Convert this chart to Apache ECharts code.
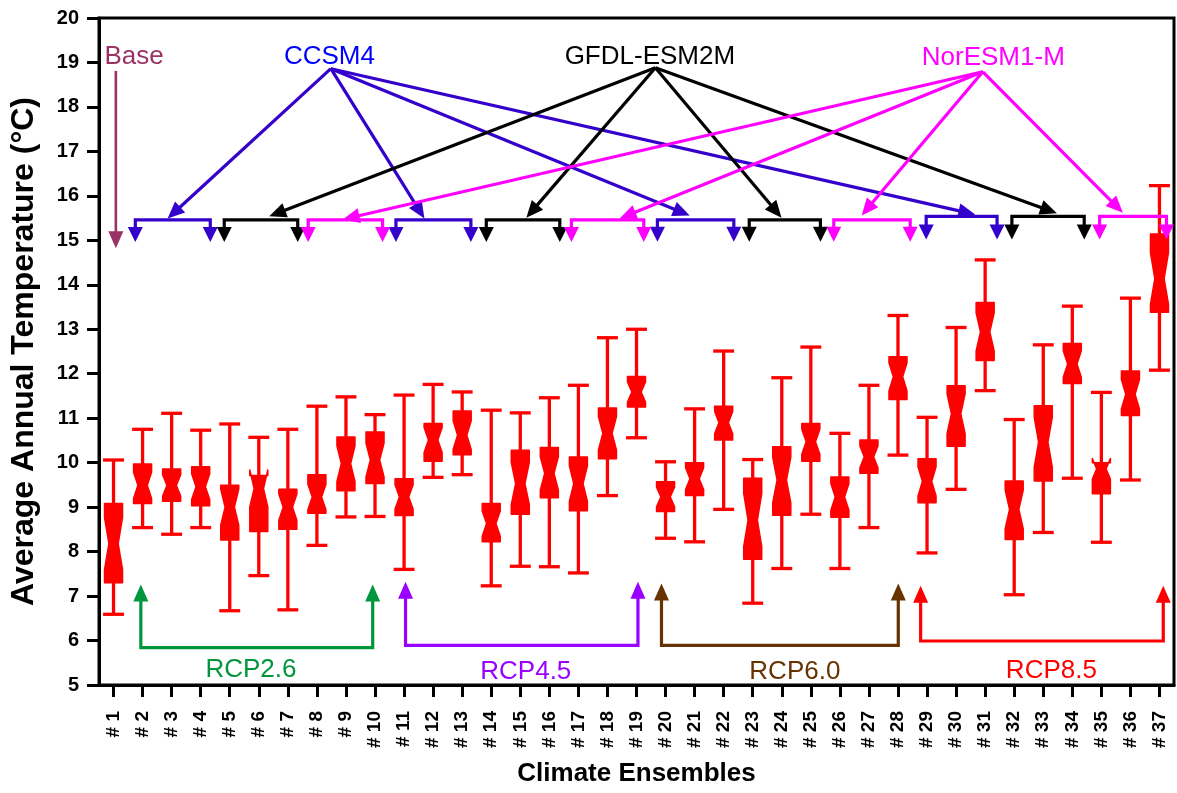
<!DOCTYPE html>
<html>
<head>
<meta charset="utf-8">
<script src="https://cdn.jsdelivr.net/npm/echarts@6/dist/echarts.min.js"></script>
<style>
  html, body { margin: 0; padding: 0; background: #fff; }
  #main { width: 1177px; height: 793px; }
</style>
</head>
<body>
<div id="main"></div>
<script>
// ensembles #1 .. #37
var ensembles = [1,2,3,4,5,6,7,8,9,10,11,12,13,14,15,16,17,18,19,20,21,22,23,24,25,26,27,28,29,30,31,32,33,34,35,36,37];

// box plot values (°C)
var whiskerLow  = [6.59,8.54,8.39,8.54,6.67,7.46,6.69,8.14,8.78,8.79, 7.60,9.67,9.73,7.23,7.67,7.66,7.52,9.26,10.56, 8.30,8.22,8.95,6.84,7.62,8.84,7.62,8.54,10.17, 7.97,9.40,11.62,7.03,8.43,9.65,8.21,9.61,12.08];
var boxQ1       = [7.30,9.08,9.13,9.03,8.26,8.45,8.50,8.86,9.37,9.53, 8.81,10.03,10.18,8.22,8.84,9.21,8.92,10.09,11.25, 8.90,9.26,10.51,7.83,8.82,10.03,8.77,9.76,11.42, 9.10,10.37,12.30,8.27,9.59,11.78,9.30,11.06,13.38];
var boxMedian   = [8.18,9.49,9.49,9.46,9.00,9.42,9.00,9.23,9.98,10.06, 9.23,10.51,10.62,8.63,9.53,9.76,9.53,10.66,11.59, 9.23,9.64,10.90,8.71,9.61,10.47,9.23,10.13,11.93, 9.58,11.10,12.94,8.95,10.46,12.22,9.86,11.54,14.14];
var boxQ3       = [9.08,9.97,9.86,9.91,9.49,9.71,9.40,9.73,10.58,10.69, 9.64,10.88,11.16,9.08,10.28,10.34,10.13,11.23,11.94, 9.57,10.00,11.27,9.65,10.36,10.88,9.68,10.51,12.38, 10.09,11.73,13.60,9.59,11.28,12.68,10.00,12.06,15.14];
var whiskerHigh = [10.06,10.75,11.11,10.73,10.87,10.57,10.75,11.27,11.48,11.08, 11.52,11.76,11.59,11.18,11.12,11.46,11.74,12.81,13.00, 10.02,11.21,12.51,10.07,11.91,12.60,10.66,11.74,13.31, 11.02,13.04,14.56,10.97,12.65,13.52,11.58,13.70,16.23];

// GCM annotations (x in ensemble units, y in °C)
var modelNames   = ['CCSM4', 'GFDL-ESM2M', 'NorESM1-M'];
var modelLabelAt = [[8.43, 19.12], [19.46, 19.12], [31.28, 19.10]];
var modelOrigin  = [[8.48, 18.86], [19.65, 18.88], [30.92, 18.79]];
var modelTargets = [
  [[2.86, 15.49], [11.70, 15.49], [20.83, 15.56], [30.66, 15.58]],
  [[6.36, 15.54], [15.21, 15.51], [23.99, 15.51], [33.47, 15.61]],
  [[8.89, 15.47], [18.42, 15.49], [26.75, 15.56], [35.74, 15.62]]
];
var modelSpans = [
  [[1.75, 4.33], [10.72, 13.30], [19.72, 22.35], [28.97, 31.41]],
  [[4.81, 7.34], [13.83, 16.36], [22.88, 25.33], [31.92, 34.41]],
  [[7.70, 10.26], [16.76, 19.25], [25.79, 28.42], [34.94, 37.24]]
];
var spanLevel = [15.46, 15.46, 15.46, 15.54];
var spanTip   = [14.96, 14.96, 14.97, 15.02];

var baseLabelAt = [1.71, 19.12];
var baseArrow   = [1.08, 18.81, 1.08, 14.82];

// RCP scenario brackets
var scenarioNames   = ['RCP2.6', 'RCP4.5', 'RCP6.0', 'RCP8.5'];
var scenarioSpans   = [[1.94, 9.92], [11.05, 19.05], [19.86, 28.01], [28.78, 37.13]];
var scenarioLevel   = [5.84, 5.89, 5.89, 5.99];
var scenarioTip     = [7.26, 7.32, 7.28, 7.23];
var scenarioLabelAt = [[5.73, 5.34], [15.19, 5.30], [24.45, 5.30], [33.28, 5.32]];

var modelColors     = ['#3300cc', '#000000', '#ff00ff'];
var modelTextColors = ['#0000ff', '#000000', '#ff00ff'];
var scenarioColors  = ['#00963c', '#9900ff', '#663300', '#ff0000'];
var baseColor = '#993366';
var boxColor = '#ff0000';
var FONT = '"Liberation Sans", Arial, sans-serif';

var chart = echarts.init(document.getElementById('main'));

// arrow head: returns polygon + the point where the shaft should end
function arrowHead(from, tip, len, wid, color) {
  var dx = tip[0] - from[0], dy = tip[1] - from[1];
  var d = Math.sqrt(dx * dx + dy * dy) || 1;
  var ux = dx / d, uy = dy / d;
  var bx = tip[0] - ux * len, by = tip[1] - uy * len;
  return {
    base: [tip[0] - ux * len * 0.7, tip[1] - uy * len * 0.7],
    el: {
      type: 'polygon',
      shape: { points: [tip, [bx - uy * wid / 2, by + ux * wid / 2], [bx + uy * wid / 2, by - ux * wid / 2]] },
      style: { fill: color }
    }
  };
}

function renderBox(params, api) {
  var k = api.value(0);
  var lo = api.value(1), q1 = api.value(2), md = api.value(3), q3 = api.value(4), hi = api.value(5);
  var unit = api.size([1, 0])[0];
  var hw = unit * 0.31, cw = unit * 0.36, inset = unit * 0.15;
  var notch = (q3 - q1) * 0.33;
  var x = api.coord([k, md])[0];
  var yLo = api.coord([k, lo])[1], yQ1 = api.coord([k, q1])[1], yMd = api.coord([k, md])[1];
  var yQ3 = api.coord([k, q3])[1], yHi = api.coord([k, hi])[1];
  var nLo = api.coord([k, md - notch])[1], nHi = api.coord([k, md + notch])[1];
  var ws = { stroke: boxColor, lineWidth: 3.3 };
  return {
    type: 'group',
    children: [
      { type: 'line', shape: { x1: x, y1: yQ3, x2: x, y2: yHi }, style: ws },
      { type: 'line', shape: { x1: x, y1: yQ1, x2: x, y2: yLo }, style: ws },
      { type: 'line', shape: { x1: x - cw, y1: yHi, x2: x + cw, y2: yHi }, style: ws },
      { type: 'line', shape: { x1: x - cw, y1: yLo, x2: x + cw, y2: yLo }, style: ws },
      {
        type: 'polygon',
        shape: { points: [
          [x - hw, yQ1], [x - hw, nLo], [x - hw + inset, yMd], [x - hw, nHi], [x - hw, yQ3],
          [x + hw, yQ3], [x + hw, nHi], [x + hw - inset, yMd], [x + hw, nLo], [x + hw, yQ1]
        ] },
        style: { fill: boxColor, stroke: boxColor, lineWidth: 1.5, lineJoin: 'round' }
      }
    ]
  };
}

// pointer arrow from model name to bracket
function renderPointer(params, api) {
  var color = api.value(4) < 0 ? baseColor : modelColors[api.value(4)];
  var p0 = api.coord([api.value(0), api.value(1)]);
  var p1 = api.coord([api.value(2), api.value(3)]);
  var w = api.value(4) < 0 ? 2.6 : 3.2;
  var h = arrowHead(p0, p1, 17, 15, color);
  return {
    type: 'group',
    children: [
      { type: 'line', shape: { x1: p0[0], y1: p0[1], x2: h.base[0], y2: h.base[1] }, style: { stroke: color, lineWidth: w } },
      h.el
    ]
  };
}

// bracket: [xLeft, xRight, level, tip, colorIndex, kind]
function renderBracket(params, api) {
  var color = api.value(5) === 0 ? modelColors[api.value(4)] : scenarioColors[api.value(4)];
  var xl = api.value(0), xr = api.value(1), lv = api.value(2), tp = api.value(3);
  var a = api.coord([xl, lv]), b = api.coord([xr, lv]);
  var ta = api.coord([xl, tp]), tb = api.coord([xr, tp]);
  var len = api.value(5) === 0 ? 15 : 17;
  var ha = arrowHead(a, ta, len, 15, color);
  var hb = arrowHead(b, tb, len, 15, color);
  return {
    type: 'group',
    children: [
      { type: 'polyline', shape: { points: [ha.base, a, b, hb.base] },
        style: { stroke: color, lineWidth: 3.2, fill: null, lineJoin: 'miter' } },
      ha.el, hb.el
    ]
  };
}

function renderLabel(params, api) {
  var idx = api.value(3);
  var kind = api.value(4);
  var color, text;
  if (kind === 0) { color = modelTextColors[idx]; text = modelNames[idx]; }
  else if (kind === 1) { color = scenarioColors[idx]; text = scenarioNames[idx]; }
  else { color = baseColor; text = 'Base'; }
  var p = api.coord([api.value(0), api.value(1)]);
  return {
    type: 'text',
    x: p[0], y: p[1],
    style: {
      text: text, fill: color, font: '26px ' + FONT,
      align: 'center', verticalAlign: 'middle',
      textAlign: 'center', textVerticalAlign: 'middle'
    }
  };
}

var boxData = ensembles.map(function (e, i) {
  return [e, whiskerLow[i], boxQ1[i], boxMedian[i], boxQ3[i], whiskerHigh[i]];
});

var pointerData = [[baseArrow[0], baseArrow[1], baseArrow[2], baseArrow[3], -1]];
modelTargets.forEach(function (list, m) {
  list.forEach(function (t) {
    pointerData.push([modelOrigin[m][0], modelOrigin[m][1], t[0], t[1], m]);
  });
});

var bracketData = [];
modelSpans.forEach(function (list, m) {
  list.forEach(function (s, j) {
    bracketData.push([s[0], s[1], spanLevel[j], spanTip[j], m, 0]);
  });
});
scenarioSpans.forEach(function (s, r) {
  bracketData.push([s[0], s[1], scenarioLevel[r], scenarioTip[r], r, 1]);
});

var labelData = [[baseLabelAt[0], baseLabelAt[1], 0, 0, 2]];
modelLabelAt.forEach(function (p, m) { labelData.push([p[0], p[1], 0, m, 0]); });
scenarioLabelAt.forEach(function (p, r) { labelData.push([p[0], p[1], 0, r, 1]); });

var option = {
  animation: false,
  backgroundColor: '#fff',
  grid: {
    left: 99, right: 3, top: 18, bottom: 108,
    outerBoundsMode: 'none', containLabel: false,
    show: true, borderColor: '#000', borderWidth: 3
  },
  xAxis: {
    type: 'value',
    min: 0.5,
    max: 37.5,
    name: 'Climate Ensembles',
    nameLocation: 'middle',
    nameGap: 76,
    nameTextStyle: { color: '#000', fontSize: 26, fontWeight: 'bold', fontFamily: FONT },
    axisLine: { onZero: false, lineStyle: { color: '#000', width: 3 } },
    axisTick: { customValues: ensembles, length: 12, lineStyle: { color: '#000', width: 3 } },
    axisLabel: {
      customValues: ensembles,
      formatter: function (v) { return '# ' + v; },
      rotate: 90, margin: 26,
      color: '#000', fontSize: 19, fontWeight: 'bold', fontFamily: FONT
    },
    splitLine: { show: false }
  },
  yAxis: {
    type: 'value',
    min: 5,
    max: 20,
    interval: 1,
    name: 'Average Annual Temperature (°C)',
    nameLocation: 'middle',
    nameGap: 59,
    nameRotate: 90,
    nameTextStyle: { color: '#000', fontSize: 32, fontWeight: 'bold', fontFamily: FONT },
    axisLine: { show: true, lineStyle: { color: '#000', width: 3 } },
    axisTick: { show: true, length: 12, lineStyle: { color: '#000', width: 3 } },
    axisLabel: { margin: 20, color: '#000', fontSize: 20, fontWeight: 'bold', fontFamily: FONT },
    splitLine: { show: false }
  },
  series: [
    { type: 'custom', name: 'boxes', renderItem: renderBox, data: boxData, z: 2, clip: false },
    { type: 'custom', name: 'brackets', renderItem: renderBracket, data: bracketData, z: 3, clip: false },
    { type: 'custom', name: 'pointers', renderItem: renderPointer, data: pointerData, z: 4, clip: false },
    { type: 'custom', name: 'labels', renderItem: renderLabel, data: labelData, z: 5, clip: false }
  ]
};

chart.setOption(option);
</script>
</body>
</html>
